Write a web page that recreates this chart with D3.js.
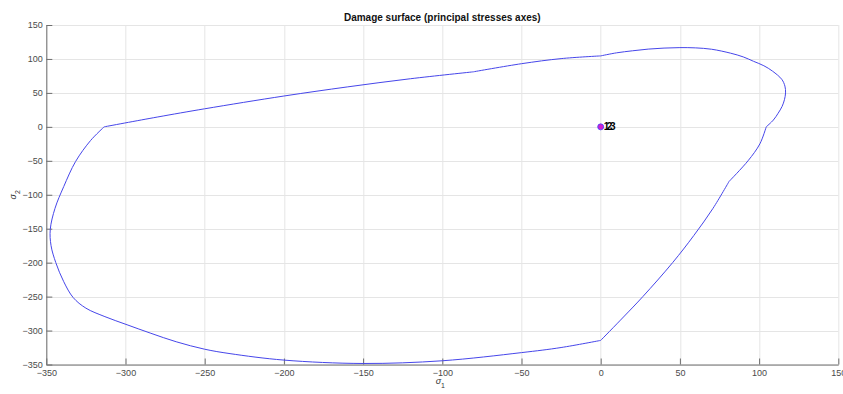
<!DOCTYPE html>
<html>
<head>
<meta charset="utf-8">
<script src="https://cdn.jsdelivr.net/npm/d3@7"></script>
<style>
  html, body { margin: 0; padding: 0; background: #fff; }
  svg { display: block; font-family: "Liberation Sans", Arial, Helvetica, sans-serif; }
</style>
</head>
<body>
<svg id="chart" width="843" height="394"></svg>
<script>
// Damage surface traced in the principal stress plane (sigma1, sigma2)
const sigma1 = [
  -313.5, -280, -250, -200, -160, -120, -80.5, -50, -25, 0,
  10, 20, 30, 40, 50, 60, 70, 82, 90, 96.5,
  103, 108.5, 114.3, 116.3, 116.7, 116, 114.5, 112, 109, 104.5,
  100.5, 93, 81, 70.9, 58.8, 45.4, 26.6, 14.4, 0,
  -25, -50, -100, -150, -200, -234, -250, -268, -284, -299,
  -313, -325, -333, -339, -344, -347, -347.5, -344.5, -339, -331.5, -322, -313.5
];
const sigma2 = [
  0, 14.4, 26.6, 45.4, 58.8, 70.9, 81, 93, 100.5, 104.5,
  109, 112, 114.5, 116, 116.7, 116.3, 114.3, 108.5, 103, 96.5,
  90, 82, 70, 60, 50, 40, 30, 20, 10, 0,
  -25, -50, -80.5, -120, -160, -200, -250, -280, -314.5,
  -325, -332.5, -344.5, -348.5, -343.5, -334, -327.5, -316.5, -304, -291.5,
  -279.5, -267, -251.5, -228, -200, -175, -151, -120, -88, -51, -20, 0
];
// indices of the sharp corners of the surface
const corners = [0, 6, 9, 29, 32, 38, 60];

// stress points and their labels
const pointS1 = [0, 2, 4];
const pointS2 = [0, 0, 0];
const pointLabels = ["1", "2", "3"];

const xTicks = [-350, -300, -250, -200, -150, -100, -50, 0, 50, 100, 150];
const yTicks = [-350, -300, -250, -200, -150, -100, -50, 0, 50, 100, 150];

const W = 843, H = 394;
const margin = { left: 46.3, right: 4.7, top: 25, bottom: 29.5 };
const iw = W - margin.left - margin.right;
const ih = H - margin.top - margin.bottom;

const svg = d3.select("#chart");
const g = svg.append("g").attr("transform", `translate(${margin.left},${margin.top})`);

const x = d3.scaleLinear().domain([-350, 150]).range([0, iw]);
const y = d3.scaleLinear().domain([-350, 150]).range([ih, 0]);

// grid
const grid = g.append("g").attr("class", "grid");
grid.selectAll("line.gx").data(xTicks).join("line")
  .attr("x1", d => Math.round(x(d)) + 0.5).attr("x2", d => Math.round(x(d)) + 0.5)
  .attr("y1", 0).attr("y2", ih)
  .attr("stroke", "#e5e5e5").attr("stroke-width", 1);
grid.selectAll("line.gy").data(yTicks).join("line")
  .attr("y1", d => Math.round(y(d)) + 0.5).attr("y2", d => Math.round(y(d)) + 0.5)
  .attr("x1", 0).attr("x2", iw)
  .attr("stroke", "#e5e5e5").attr("stroke-width", 1);

// axes with inward ticks
const xAxis = d3.axisBottom(x).tickValues(xTicks).tickFormat(d3.format("d"))
  .tickSizeInner(-6).tickSizeOuter(0).tickPadding(10);
const yAxis = d3.axisLeft(y).tickValues(yTicks).tickFormat(d3.format("d"))
  .tickSizeInner(-6).tickSizeOuter(0).tickPadding(10);

const gx = g.append("g").attr("transform", `translate(0,${ih})`).call(xAxis);
const gy = g.append("g").call(yAxis);
[gx, gy].forEach(a => {
  a.select(".domain").attr("stroke", "#6e6e6e").attr("stroke-width", 1);
  a.selectAll(".tick line").attr("stroke", "#6e6e6e");
  a.selectAll(".tick text").attr("fill", "#4a4a4a").attr("font-size", 9)
    .attr("font-family", "Liberation Sans, Arial, sans-serif");
});
gy.selectAll(".tick text").attr("x", -3.5);
gx.selectAll(".tick text").attr("y", 5);

// surface outline, smooth between the corners
const line = d3.line()
  .x(d => x(d[0])).y(d => y(d[1]))
  .curve(d3.curveCatmullRom.alpha(0.5));
const pts = sigma1.map((s, i) => [s, sigma2[i]]);
for (let k = 0; k < corners.length - 1; k++) {
  const seg = pts.slice(corners[k], corners[k + 1] + 1);
  g.append("path").datum(seg)
    .attr("d", line)
    .attr("fill", "none")
    .attr("stroke", "#4646ea")
    .attr("stroke-width", 1)
    .attr("stroke-linejoin", "round");
}

// stress points
g.append("circle")
  .attr("cx", x(pointS1[0])).attr("cy", y(pointS2[0]))
  .attr("r", 3).attr("fill", "#d020d0").attr("stroke", "#4040ff").attr("stroke-width", 0.8);
g.selectAll("text.pl").data(pointLabels).join("text")
  .attr("x", (d, i) => x(pointS1[i]) + 3)
  .attr("y", (d, i) => y(pointS2[i]) + 3.5)
  .attr("font-size", 10).attr("font-weight", "bold").attr("fill", "#000")
  .text(d => d);

// title and axis labels
svg.append("text")
  .attr("x", margin.left + iw / 2).attr("y", 20.5)
  .attr("text-anchor", "middle").attr("font-size", 10).attr("font-weight", "bold")
  .attr("fill", "#111")
  .text("Damage surface (principal stresses axes)");

const xl = svg.append("text")
  .attr("x", margin.left + iw / 2 - 2).attr("y", 384)
  .attr("text-anchor", "middle").attr("font-size", 9).attr("fill", "#333");
xl.append("tspan").attr("font-style", "italic").text("σ");
xl.append("tspan").attr("dy", 4).attr("font-size", 7).text("1");

const yl = svg.append("text")
  .attr("transform", `translate(16,${margin.top + ih / 2}) rotate(-90)`)
  .attr("text-anchor", "middle").attr("font-size", 9).attr("fill", "#333");
yl.append("tspan").attr("font-style", "italic").text("σ");
yl.append("tspan").attr("dy", 4).attr("font-size", 7).text("2");
</script>
</body>
</html>
